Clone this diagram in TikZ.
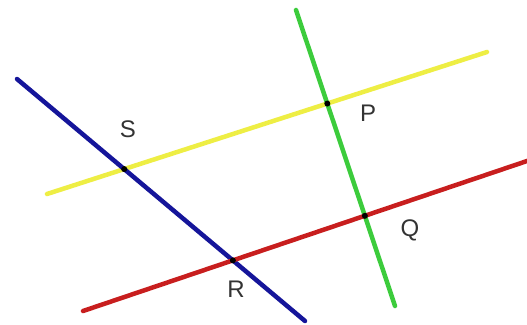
\documentclass[tikz,border=0pt]{standalone}
\usepackage{fontspec}
\setmainfont{Liberation Sans}
\usetikzlibrary{positioning}
\definecolor{zitrone}{HTML}{EEEE44}
\definecolor{gras}{HTML}{3CCC3C}
\definecolor{nacht}{HTML}{15159A}
\definecolor{ziegel}{HTML}{C81E1E}

\begin{document}
\begin{tikzpicture}[x=1pt, y=-1pt,
      strich/.style={line width=4.5pt, line cap=round},
      punkt/.style={circle, fill=black, inner sep=0pt, minimum size=6pt},
      marke/.style={text=black!80, font=\fontsize{24}{24}\selectfont}]
    \useasboundingbox[fill=white] (0,0) rectangle (527,324);
    % Enden der Geraden
    \coordinate (y1) at (47,194);  \coordinate (y2) at (487,52);
    \coordinate (g1) at (296,10);  \coordinate (g2) at (395,306);
    \coordinate (b1) at (17,79);   \coordinate (b2) at (305,321);
    \coordinate (r1) at (83,311);  \coordinate (r2) at (530,160);
    \draw[strich, zitrone] (y1) -- (y2);
    \draw[strich, gras] (g1) -- (g2);
    \draw[strich, nacht] (b1) -- (b2);
    \draw[strich, ziegel] (r1) -- (r2);
    % Schnittpunkte
    \node[punkt] (p) at (intersection of y1--y2 and g1--g2) {};
    \node[punkt] (q) at (intersection of r1--r2 and g1--g2) {};
    \node[punkt] (r) at (intersection of r1--r2 and b1--b2) {};
    \node[punkt] (s) at (intersection of y1--y2 and b1--b2) {};
    \node[marke] (lp) at (368,113) {P};
    \node[marke] (lq) at (410,230) {Q};
    \node[marke] (lr) at (236,289) {R};
    \node[marke] (ls) at (128,129) {S};
  \end{tikzpicture}
\end{document}
